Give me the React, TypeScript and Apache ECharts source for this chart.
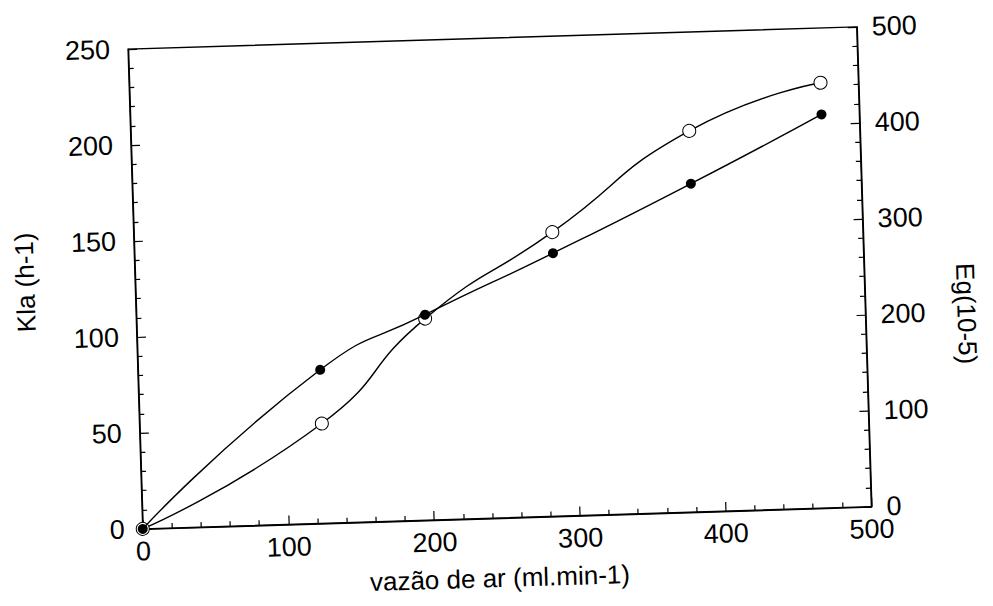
import React, { useEffect, useRef } from "react";
import * as echarts from "echarts";

const airFlow = [0, 125, 198, 287, 383, 474];
const klaValues = [0, 80, 107, 137, 171, 205];
const egValues = [0, 104, 210, 296, 397, 443];

const xTitle = "vazão de ar (ml.min-1)";
const leftTitle = "Kla (h-1)";
const rightTitle = "Eg(10-5)";

const FONT = "'Liberation Sans', Arial, sans-serif";

export default function App() {
  const ref = useRef<HTMLDivElement>(null);
  useEffect(() => {
    if (!ref.current) return;
    const chart = echarts.init(ref.current, undefined, { renderer: "svg" });
    const axisLine = { show: true, lineStyle: { color: "#000", width: 1.4 } };
    const label = { color: "#000", fontSize: 27, fontFamily: FONT };
    const nameStyle = { color: "#000", fontSize: 26, fontFamily: FONT };
    const tick = { show: true, inside: true, length: 9, lineStyle: { color: "#000", width: 1.2 } };
    const minor = { show: true, splitNumber: 5, length: 5, lineStyle: { color: "#000", width: 1.2 } };
    chart.setOption({
      animation: false,
      backgroundColor: "#fff",
      grid: {
        left: 136,
        right: 128,
        top: 38,
        bottom: 88,
        show: true,
        borderColor: "#000",
        borderWidth: 1.4,
        containLabel: false,
        outerBoundsMode: "none",
      },
      xAxis: {
        type: "value",
        min: 0,
        max: 500,
        interval: 100,
        name: xTitle,
        nameLocation: "middle",
        nameGap: 47,
        nameTextStyle: { ...nameStyle, padding: [0, 18, 0, 0] },
        axisLine,
        axisTick: tick,
        minorTick: minor,
        axisLabel: { ...label, margin: 9 },
        splitLine: { show: false },
      },
      yAxis: [
        {
          type: "value",
          position: "left",
          min: 0,
          max: 250,
          interval: 50,
          name: leftTitle,
          nameLocation: "middle",
          nameRotate: 90,
          nameGap: 97,
          nameTextStyle: { ...nameStyle, padding: [0, 0, 0, 20] },
          axisLine,
          axisTick: tick,
          minorTick: minor,
          axisLabel: { ...label, margin: 18 },
          splitLine: { show: false },
        },
        {
          type: "value",
          position: "right",
          min: 0,
          max: 500,
          interval: 100,
          name: rightTitle,
          nameLocation: "middle",
          nameRotate: -90,
          nameGap: 88,
          nameTextStyle: { ...nameStyle, padding: [0, 0, 0, 100] },
          axisLine,
          axisTick: tick,
          minorTick: minor,
          axisLabel: { ...label, margin: 15 },
          splitLine: { show: false },
        },
      ],
      series: [
        {
          name: leftTitle,
          type: "line",
          yAxisIndex: 0,
          smooth: 0.55,
          data: airFlow.map((x, i) => [x, klaValues[i]]),
          symbol: "circle",
          symbolSize: 10,
          itemStyle: { color: "#000" },
          lineStyle: { color: "#000", width: 1.4 },
          z: 3,
        },
        {
          name: rightTitle,
          type: "line",
          yAxisIndex: 1,
          smooth: 0.55,
          data: airFlow.map((x, i) => [x, egValues[i]]),
          symbol: "circle",
          symbolSize: 13,
          itemStyle: { color: "#fff", borderColor: "#000", borderWidth: 1 },
          lineStyle: { color: "#000", width: 1.4 },
          z: 2,
        },
      ],
    });
    return () => chart.dispose();
  }, []);

  return (
    <div
      style={{
        position: "fixed",
        left: 0,
        top: 0,
        width: 993,
        height: 606,
        overflow: "hidden",
        background: "#fff",
      }}
    >
      <div
        ref={ref}
        style={{
          position: "absolute",
          left: 0,
          top: 0,
          width: 993,
          height: 606,
          transform: "rotate(-1.75deg)",
          transformOrigin: "50% 50%",
        }}
      />
    </div>
  );
}
